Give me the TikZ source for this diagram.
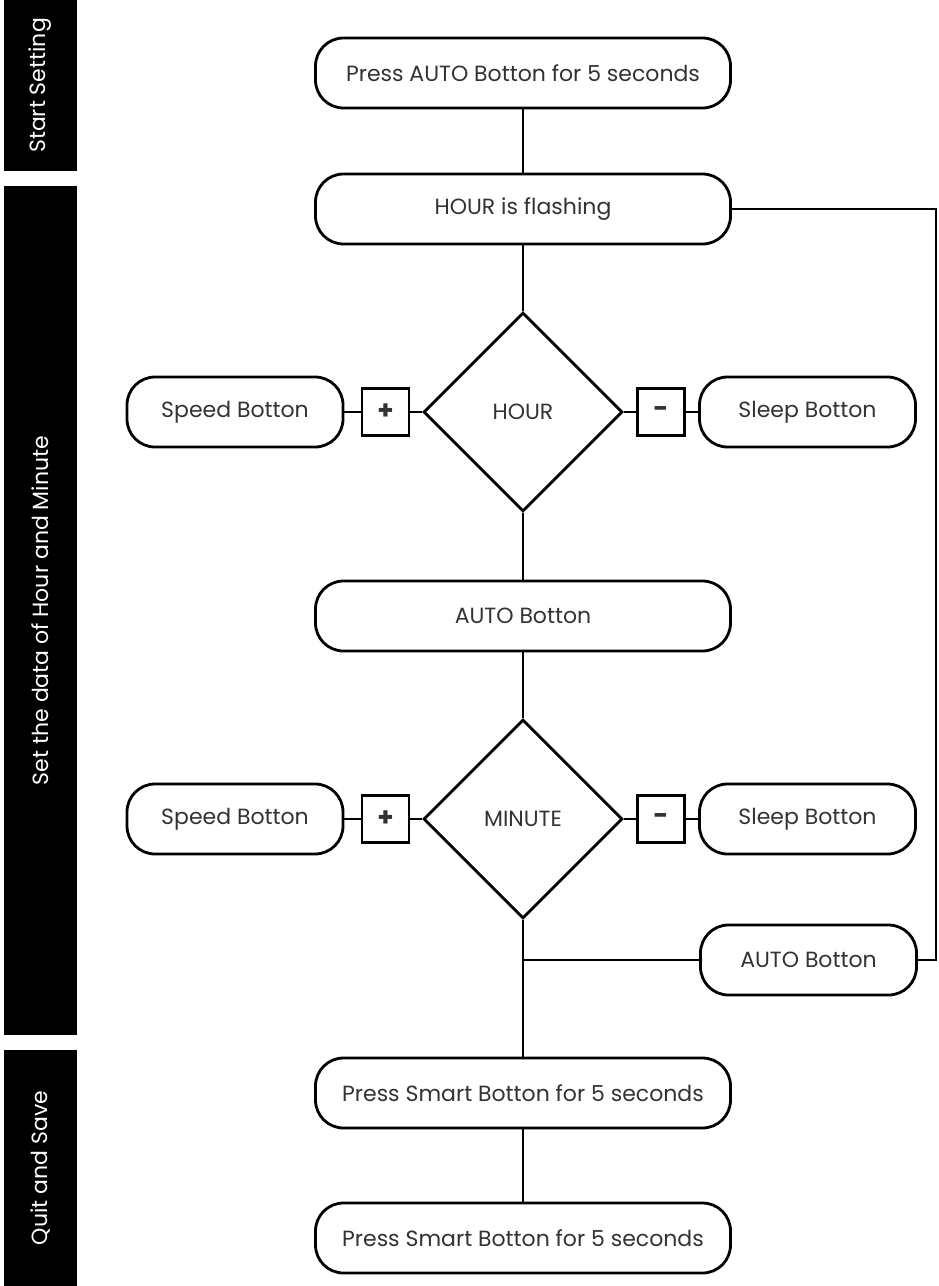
\documentclass[tikz,border=0pt]{standalone}
\usepackage{fontspec}
\setmainfont{Poppins}
\usetikzlibrary{shapes.geometric}
\definecolor{txt}{HTML}{333333}
\tikzset{
  every node/.style={font=\fontsize{22}{24}\selectfont, text=txt},
  line/.style={draw=black, line width=2.8pt},
  pill/.style={line, rectangle, rounded corners=28pt, minimum height=70pt, inner sep=0pt, fill=white},
  widepill/.style={pill, minimum width=415pt},
  sidepill/.style={pill, minimum width=216pt},
  decide/.style={line, diamond, aspect=1, minimum width=199pt, minimum height=199pt, inner sep=0pt, fill=white},
  signbox/.style={line, rectangle, minimum width=47pt, minimum height=47pt, inner sep=0pt, font=\fontsize{26}{26}\selectfont\bfseries, text=txt},
  bar/.style={fill=black, text=white, rotate=90, minimum height=73pt, inner sep=0pt}
}
\begin{document}
\begin{tikzpicture}[x=1pt, y=-1pt]
\useasboundingbox (0,0) rectangle (939,1286);
% side bars
\node[bar, minimum width=171pt] (barA) at (40.5,85.5) {Start Setting};
\node[bar, minimum width=849pt] (barB) at (40.5,610.5) {Set the data of Hour and Minute};
\node[bar, minimum width=236pt] (barC) at (40.5,1168) {Quit and Save};
% main column
\node[widepill] (start) at (523,73) {Press AUTO Botton for 5 seconds};
\node[widepill] (flash) at (523,209) {HOUR is flashing};
\node[decide] (hour) at (523,412) {HOUR};
\node[widepill] (auto1) at (523,616) {AUTO Botton};
\node[decide] (minute) at (523,819) {MINUTE};
\node[widepill] (smart1) at (523,1093) {Press Smart Botton for 5 seconds};
\node[widepill] (smart2) at (523,1238) {Press Smart Botton for 5 seconds};
% side rows
\node[sidepill] (speed1) at (235,412) {Speed Botton};
\node[signbox] (plus1) at (385.5,412) {+};
\node[signbox] (minus1) at (661,412) {-};
\node[sidepill] (sleep1) at (807.5,412) {Sleep Botton};
\node[sidepill] (speed2) at (235,819) {Speed Botton};
\node[signbox] (plus2) at (385.5,819) {+};
\node[signbox] (minus2) at (661,819) {-};
\node[sidepill] (sleep2) at (807.5,819) {Sleep Botton};
\node[sidepill] (auto2) at (808.5,960) {AUTO Botton};
\coordinate (junc) at (523,960);
\coordinate (loop) at (936,600);
% connectors
\draw[line] (start) -- (flash);
\draw[line] (flash) -- (hour);
\draw[line] (hour) -- (auto1);
\draw[line] (auto1) -- (minute);
\draw[line] (minute.south) -- (junc) -- (smart1.north);
\draw[line] (junc) -- (auto2.west);
\draw[line] (smart1) -- (smart2);
\draw[line] (flash.east) -| (loop) |- (auto2.east);
\draw[line] (speed1.east) -- (plus1.west);
\draw[line] (plus1.east) -- (hour.west);
\draw[line] (hour.east) -- (minus1.west);
\draw[line] (minus1.east) -- (sleep1.west);
\draw[line] (speed2.east) -- (plus2.west);
\draw[line] (plus2.east) -- (minute.west);
\draw[line] (minute.east) -- (minus2.west);
\draw[line] (minus2.east) -- (sleep2.west);
\end{tikzpicture}
\end{document}
